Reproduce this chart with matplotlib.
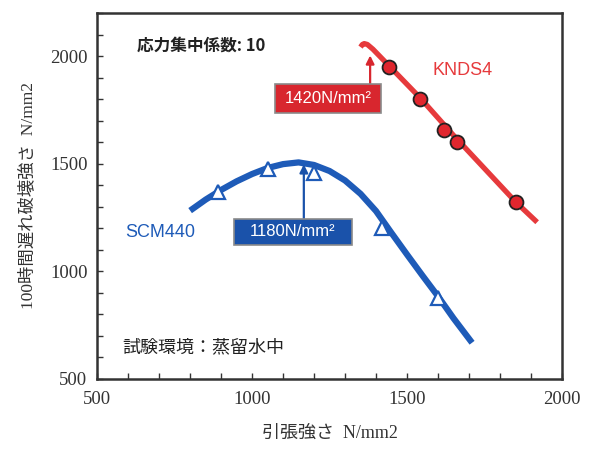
import matplotlib
matplotlib.use("Agg")
import matplotlib.pyplot as plt
from matplotlib.ticker import MultipleLocator
from matplotlib.patches import Rectangle

# ---- data ----
scm_x = [890, 1050, 1200, 1420, 1600]
scm_y = [1370, 1475, 1455, 1200, 878]
scm_curve_x = [800, 850, 900, 950, 1000, 1050, 1100, 1150, 1200, 1250, 1300,
               1350, 1400, 1450, 1500, 1550, 1600, 1650, 1710]
scm_curve_y = [1282, 1333, 1378, 1418, 1452, 1480, 1498, 1506, 1494, 1466, 1422,
               1360, 1280, 1178, 1078, 980, 884, 782, 668]

knds_x = [1442, 1543, 1620, 1660, 1851]
knds_y = [1950, 1802, 1657, 1602, 1320]
knds_curve_x = [1350, 1356, 1362, 1372, 1390, 1442, 1543, 1650, 1851, 1920]
knds_curve_y = [2042, 2054, 2058, 2054, 2032, 1955, 1805, 1632, 1322, 1228]

scm_peak = 1180
knds_peak = 1420

x_ticks = [500, 1000, 1500, 2000]
y_ticks = [500, 1000, 1500, 2000]

BLUE = "#1e5bb8"
RED = "#e63a3c"
BOXRED = "#d8262e"
BOXBLUE = "#1a52aa"
JP = ["Liberation Serif", "Noto Sans CJK JP"]
JPS = ["Noto Sans CJK JP", "DejaVu Sans"]

fig = plt.figure(figsize=(5.89, 4.5), dpi=100)
ax = fig.add_axes([0.165, 0.158, 0.789, 0.813])

ax.plot(scm_curve_x, scm_curve_y, color=BLUE, lw=4.5, solid_capstyle="butt",
        solid_joinstyle="round", zorder=2)
ax.plot(scm_x, scm_y, linestyle="none", marker="^", markersize=10,
        markerfacecolor="white", markeredgecolor=BLUE, markeredgewidth=1.6, zorder=3)

ax.plot(knds_curve_x, knds_curve_y, color=RED, lw=3.8, solid_capstyle="butt",
        solid_joinstyle="round", zorder=2)
ax.plot(knds_x, knds_y, linestyle="none", marker="o", markersize=10,
        markerfacecolor="#e0262e", markeredgecolor="#222222", markeredgewidth=1.3, zorder=3)

# arrows + boxes
ax.annotate("", xy=(1381, 2003), xytext=(1381, 1870),
            arrowprops=dict(arrowstyle="-|>", color=BOXRED, lw=1.6,
                            mutation_scale=12, shrinkA=0, shrinkB=0), zorder=4)
ax.add_patch(Rectangle((1073, 1736), 344, 134, facecolor=BOXRED,
                       edgecolor="#8a8a8a", lw=1.2, zorder=4))
ax.text(1245, 1803, f"{knds_peak}N/mm²", color="white", fontsize=12,
        family="Liberation Sans", ha="center", va="center", zorder=5)

ax.annotate("", xy=(1167, 1497), xytext=(1167, 1245),
            arrowprops=dict(arrowstyle="-|>", color=BOXBLUE, lw=1.6,
                            mutation_scale=12, shrinkA=0, shrinkB=0), zorder=4)
ax.add_patch(Rectangle((941, 1120), 382, 125, facecolor=BOXBLUE,
                       edgecolor="#8a8a8a", lw=1.2, zorder=4))
ax.text(1132, 1183, f"{scm_peak}N/mm²", color="white", fontsize=12,
        family="Liberation Sans", ha="center", va="center", zorder=5)

# labels inside
ax.text(705, 1180, "SCM440", color=BLUE, fontsize=13, family="Liberation Sans",
        ha="center", va="center")
ax.text(1582, 1935, "KNDS4", color=RED, fontsize=13, family="Liberation Sans",
        ha="left", va="center")
ax.text(630, 2050, "応力集中係数: 10", color="#222222", fontsize=12,
        family=JPS, fontweight="bold", ha="left", va="center")
ax.text(581, 648, "試験環境：蒸留水中", color="#222222", fontsize=13,
        family=JPS, ha="left", va="center")

ax.set_xlim(500, 2000)
ax.set_ylim(500, 2200)
ax.set_xticks(x_ticks)
ax.set_yticks(y_ticks)
ax.xaxis.set_minor_locator(MultipleLocator(100))
ax.yaxis.set_minor_locator(MultipleLocator(100))
ax.tick_params(which="both", direction="in", length=4, width=1, color="#333333")
ax.tick_params(which="both", top=False, right=False)
ax.tick_params(axis="x", pad=9)
ax.tick_params(axis="y", pad=7)
for lab in ax.get_xticklabels() + ax.get_yticklabels():
    lab.set_fontfamily("Liberation Serif")
    lab.set_fontsize(13.5)
    lab.set_color("#333333")
for s in ax.spines.values():
    s.set_linewidth(1.8)
    s.set_color("#333333")

ax.set_xlabel("引張強さ  N/mm2", family=JP, fontsize=13, color="#333333", labelpad=12)
ax.set_ylabel("100時間遅れ破壊強さ  N/mm2", family=JP, fontsize=12.5, color="#333333", labelpad=10)

fig.savefig("out.png", dpi=100)
